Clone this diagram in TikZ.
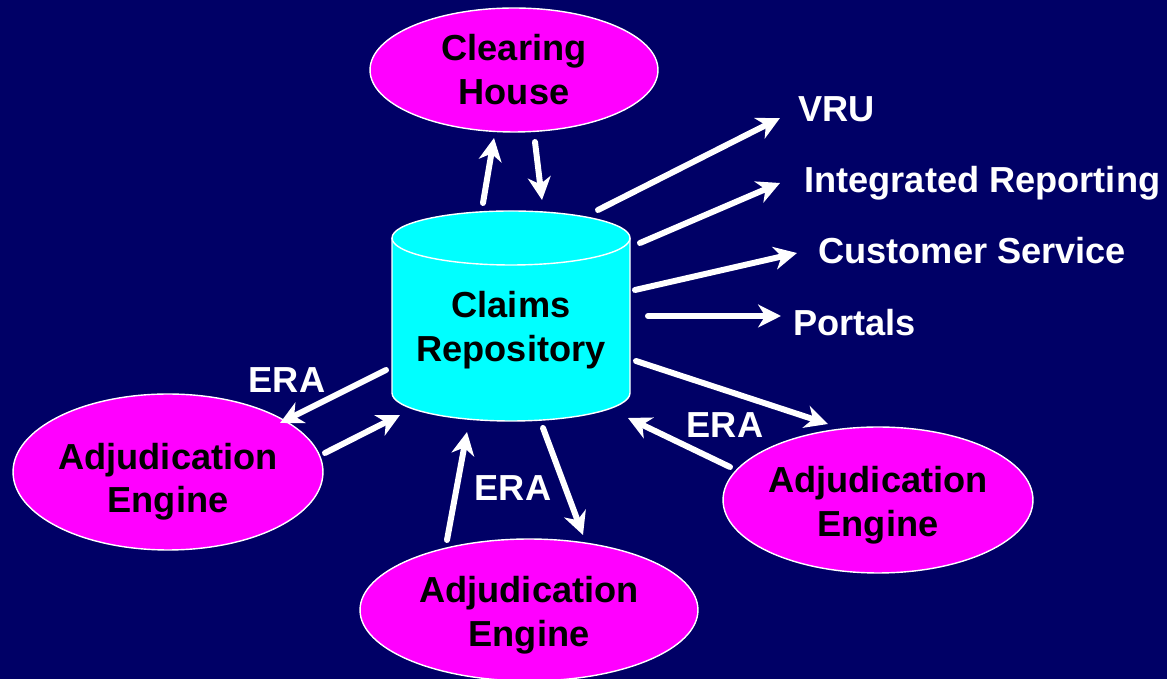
\documentclass[tikz,border=0pt]{standalone}
\usepackage{fontspec}
\setmainfont{Liberation Sans}
\definecolor{navybg}{RGB}{0, 0, 102}
\definecolor{engmag}{RGB}{255, 0, 255}
\definecolor{repocyan}{RGB}{0, 255, 255}
\usetikzlibrary{shapes, arrows.meta, positioning, calc}

\begin{document}
\begin{tikzpicture}[x=0.02cm, y=0.02cm,
    engine/.style={ellipse, draw=white, line width=0.8pt, fill=engmag, inner sep=0pt, align=center, text=black},
    flow/.style={draw=white, line width=3.4pt, line cap=round, -{Stealth[length=13pt, width=13pt, inset=4pt]}},
    outlbl/.style={anchor=west, text=white, inner sep=0pt},
    eralbl/.style={text=white, inner sep=0pt}]
  \fontsize{20.6}{25}\selectfont\bfseries
  % Background
  \fill[navybg] (0,0) rectangle (1167,679);
  \useasboundingbox (0,0) rectangle (1167,679);

  % Claims repository (cylinder)
  \filldraw[fill=repocyan, draw=white, line width=0.8pt] (392,441) -- (392,286)
    arc[start angle=180, end angle=360, x radius=119, y radius=28] -- (630,441)
    arc[start angle=0, end angle=180, x radius=119, y radius=27] -- cycle;
  \draw[white, line width=0.8pt] (392,441) arc[start angle=180, end angle=360, x radius=119, y radius=27];
  \node[align=center, inner sep=0pt] (repo) at (511,349) {Claims\\Repository};

  % Clearing house and engines
  \node[engine, minimum width=5.76cm, minimum height=2.48cm] (ch) at (514,609) {Clearing\\House};
  \node[engine, minimum width=6.2cm, minimum height=3.12cm] (engL) at (168,207) {\rule{0pt}{26pt}Adjudication\\Engine};
  \node[engine, minimum width=6.76cm, minimum height=2.84cm] (engB) at (529,69) {\rule{0pt}{21pt}Adjudication\\Engine};
  \node[engine, minimum width=6.12cm, minimum height=2.92cm] (engR) at (878,179) {\rule{0pt}{21pt}Adjudication\\Engine};

  % Outputs
  \node[outlbl] (vru) at (798,570) {VRU};
  \node[outlbl] (intrep) at (804,496) {Integrated Reporting};
  \node[outlbl] (cust) at (818,428) {Customer Service};
  \node[outlbl] (portals) at (793,356) {Portals};

  % ERA labels
  \node[eralbl] (eraL) at (287,299) {ERA};
  \node[eralbl] (eraB) at (513,191) {ERA};
  \node[eralbl] (eraR) at (725,254) {ERA};

  % Clearing house traffic
  \draw[flow] ([shift={(-28,127)}]repo.center) -- ([shift={(-20,-68)}]ch.center);
  \draw[flow] ([shift={(21,-72)}]ch.center) -- ([shift={(31,130)}]repo.center);

  % Feeds out
  \draw[flow] ([shift={(87,120)}]repo.center) -- ([shift={(-18,-9)}]vru.west);
  \draw[flow] ([shift={(129,87)}]repo.center) -- ([shift={(-24,0)}]intrep.west);
  \draw[flow] ([shift={(124,40)}]repo.center) -- ([shift={(-21,-2)}]cust.west);
  \draw[flow] ([shift={(137,14)}]repo.center) -- ([shift={(-12,7)}]portals.west);

  % Engines
  \draw[flow] ([shift={(-125,-40)}]repo.center) -- ([shift={(112,49)}]engL.center);
  \draw[flow] ([shift={(157,19)}]engL.center) -- ([shift={(-111,-85)}]repo.center);
  \draw[flow] ([shift={(-82,70)}]engB.center) -- ([shift={(-44,-102)}]repo.center);
  \draw[flow] ([shift={(32,-98)}]repo.center) -- ([shift={(54,75)}]engB.center);
  \draw[flow] ([shift={(125,-31)}]repo.center) -- ([shift={(-50,76)}]engR.center);
  \draw[flow] ([shift={(-148,33)}]engR.center) -- ([shift={(117,-88)}]repo.center);
\end{tikzpicture}
\end{document}
